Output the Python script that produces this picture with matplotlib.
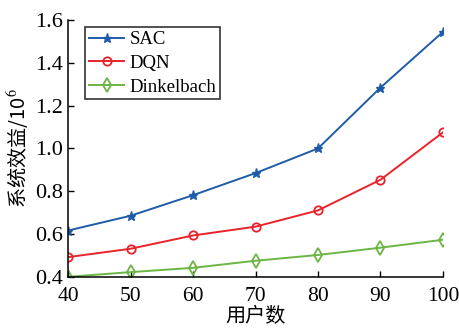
import matplotlib
matplotlib.use('Agg')
import matplotlib.pyplot as plt

users = [40, 50, 60, 70, 80, 90, 100]
sac = [0.617, 0.686, 0.782, 0.885, 1.0, 1.284, 1.544]
dqn = [0.493, 0.532, 0.594, 0.635, 0.711, 0.854, 1.075]
dinkelbach = [0.401, 0.423, 0.443, 0.476, 0.503, 0.537, 0.574]

plt.rcParams['font.family'] = ['Liberation Serif', 'Noto Sans CJK SC']
plt.rcParams['mathtext.fontset'] = 'stix'

fig = plt.figure(figsize=(4.6, 3.31), dpi=100)
ax = fig.add_axes([0.148, 0.163, 0.815, 0.777])

ax.plot(users, sac, color='#1f5ca8', marker='*', markersize=6.5, linewidth=1.4, label='SAC')
ax.plot(users, dqn, color='#e8232b', marker='o', markersize=6, markerfacecolor='none',
        markeredgewidth=1.3, linewidth=1.4, label='DQN')
ax.plot(users, dinkelbach, color='#6cb544', marker='d', markersize=7.5, markerfacecolor='none',
        markeredgewidth=1.3, linewidth=1.4, label='Dinkelbach')

ax.set_xlim(40, 100)
ax.set_ylim(0.4, 1.6)
ax.set_xticks(users)
ax.set_yticks([0.4, 0.6, 0.8, 1.0, 1.2, 1.4, 1.6])
ax.set_yticklabels(['0.4', '0.6', '0.8', '1.0', '1.2', '1.4', '1.6'])
ax.tick_params(direction='in', length=4, width=1, labelsize=16)
ax.tick_params(axis='x', pad=7, labelsize=15.5)
ax.tick_params(axis='y', pad=4)
for s in ['top', 'right']:
    ax.spines[s].set_visible(False)
for s in ['left', 'bottom']:
    ax.spines[s].set_linewidth(1.1)

ax.set_xlabel('用户数', family=['Noto Sans CJK SC'], fontsize=14.5, labelpad=0)
ax.set_ylabel('系统效益/10$^6$', family=['Noto Sans CJK SC', 'Liberation Serif'], fontsize=14.5, labelpad=2)

leg = ax.legend(loc='upper left', bbox_to_anchor=(0.035, 0.985), fontsize=13.5, frameon=True,
                fancybox=False, edgecolor='black', handlelength=1.9, handletextpad=0.3,
                borderpad=0.2, labelspacing=0.35, borderaxespad=0.2)
leg.get_frame().set_linewidth(1.2)

fig.savefig('out.png', dpi=100)
